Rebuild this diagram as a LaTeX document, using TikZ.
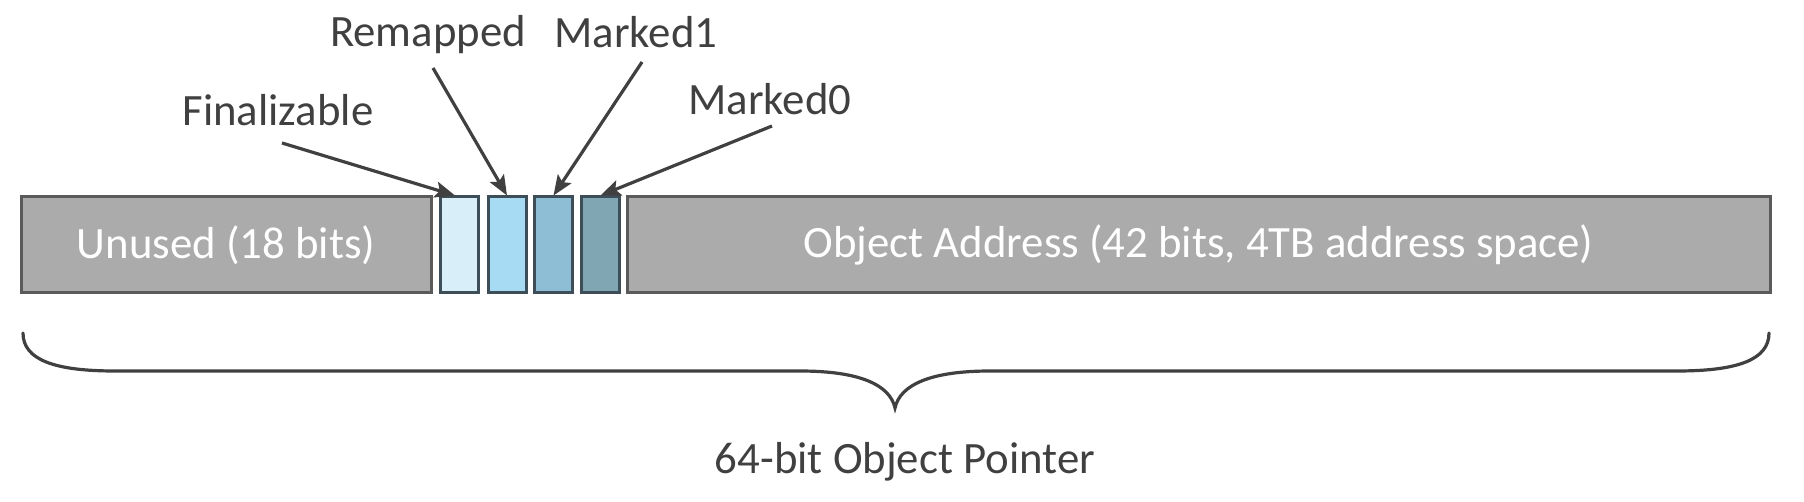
\documentclass[tikz,border=0pt]{standalone}
\usepackage{fontspec}
\setmainfont{Carlito}
\usetikzlibrary{arrows.meta}
\definecolor{boxgray}{HTML}{ABABAB}
\definecolor{boxedge}{HTML}{5A5A5A}
\definecolor{bitedge}{HTML}{3E4E58}
\definecolor{bitA}{HTML}{D8EFFA}
\definecolor{bitB}{HTML}{A7DAF3}
\definecolor{bitC}{HTML}{8EBED5}
\definecolor{bitD}{HTML}{7FA6B2}
\definecolor{ink}{HTML}{404040}
\tikzset{
  field/.style={draw=boxedge, fill=boxgray, line width=1.5pt, minimum height=48pt, inner sep=0pt,
     text=white, font=\fontsize{22.4}{26}\selectfont},
  bitbox/.style={draw=bitedge, line width=1.5pt, minimum height=48pt, minimum width=19pt, inner sep=0pt},
  lbl/.style={text=ink, inner sep=0pt, font=\fontsize{22.4}{26}\selectfont},
  arr/.style={draw=ink, line width=1.6pt, -{Stealth[length=10pt,width=8pt,inset=2pt]}},
  bracestyle/.style={draw=ink, line width=1.6pt, line cap=round}
}
\begin{document}
\begin{tikzpicture}[x=0.5pt,y=-0.5pt]
\useasboundingbox (0,0) rectangle (1804,502);
\node[field, minimum width=205pt] (unused) at (226,245) {Unused (18 bits)};
\node[bitbox, fill=bitA] (b1) at (459,245) {};
\node[bitbox, fill=bitB] (b2) at (507,245) {};
\node[bitbox, fill=bitC] (b3) at (553.5,245) {};
\node[bitbox, fill=bitD] (b4) at (600.5,245) {};
\node[field, minimum width=571.5pt] (obj) at (1198.5,245) {Object Address (42 bits, 4TB address space)};

\node[lbl] (fin) at (278,110) {Finalizable};
\node[lbl] (rem) at (428,35) {Remapped};
\node[lbl] (m1) at (636,32) {Marked1};
\node[lbl] (m0) at (770,99) {Marked0};
\node[lbl] (ptr) at (905,462) {64-bit Object Pointer};

\coordinate (fs) at (282,143);
\coordinate (rs) at (433,68);
\coordinate (m1s) at (642,62);
\coordinate (m0s) at (772,126);
\draw[arr] (fs) -- ([xshift=-2pt]b1.north);
\draw[arr] (rs) -- (b2.north);
\draw[arr] (m1s) -- (b3.north);
\draw[arr] (m0s) -- (b4.north);

\coordinate (bl) at (23,333);
\coordinate (br) at (1769,333);
\coordinate (bt) at (895,408);
\draw[bracestyle] (bl) .. controls (23,360) and (55,371) .. (115,371)
  -- (800,371) .. controls (860,371) and (890,385) .. (bt)
  .. controls (900,385) and (930,371) .. (990,371)
  -- (1677,371) .. controls (1737,371) and (1769,360) .. (br);
\end{tikzpicture}
\end{document}
